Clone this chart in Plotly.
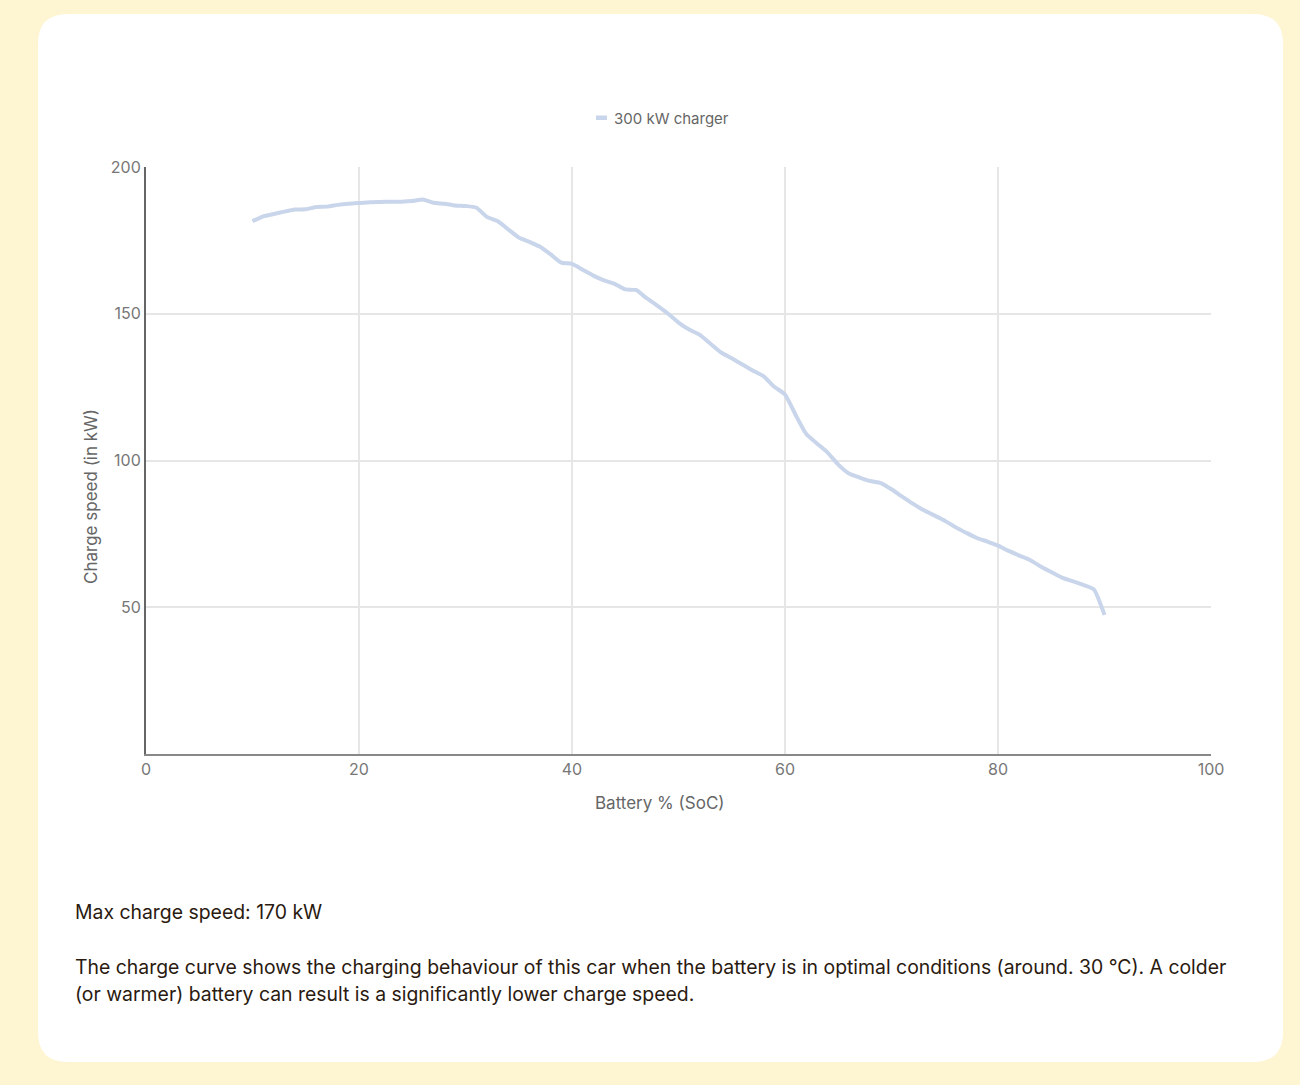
import plotly.graph_objects as go

# ---- data ----
soc = list(range(10, 91))
speed_kw = [181.5, 183.2, 184.0, 184.8, 185.5, 185.6, 186.4, 186.5, 187.1, 187.5,
            187.7, 188.0, 188.1, 188.2, 188.2, 188.4, 188.9, 187.8, 187.5, 186.9,
            186.7, 186.2, 183.0, 181.6, 178.8, 176.0, 174.5, 172.8, 170.2, 167.4,
            167.0, 165.0, 163.0, 161.4, 160.2, 158.3, 158.1, 155.3, 152.8, 150.1,
            147.0, 144.6, 142.8, 139.8, 136.8, 134.8, 132.7, 130.6, 128.7, 125.1,
            122.5, 115.5, 109.0, 105.8, 102.7, 98.6, 95.6, 94.2, 93.0, 92.3,
            90.2, 87.7, 85.3, 83.1, 81.3, 79.5, 77.3, 75.4, 73.6, 72.4,
            71.0, 69.2, 67.6, 66.1, 63.9, 62.0, 60.1, 58.9, 57.6, 56.1, 47.4]
series_name = "300 kW charger"
x_ticks = [0, 20, 40, 60, 80, 100]
y_ticks = [50, 100, 150, 200]
x_title = "Battery % (SoC)"
y_title = "Charge speed (in kW)"
max_text = "Max charge speed: 170 kW"
desc_line1 = "The charge curve shows the charging behaviour of this car when the battery is in optimal conditions (around. 30 °C). A colder"
desc_line2 = "(or warmer) battery can result is a significantly lower charge speed."

W, H = 1300, 1085
L, R, T, B = 146, 1211, 167, 754
LINE_COLOR = "#c9d5ea"
FONT = "Inter"


def px(xp):
    return (xp - L) / (R - L)


def py(yp):
    return (B - yp) / (B - T)


fig = go.Figure()
fig.add_trace(go.Scatter(
    x=soc, y=speed_kw, mode="lines", name=series_name,
    line=dict(color=LINE_COLOR, width=4, shape="spline", smoothing=0.5),
    showlegend=False, hoverinfo="x+y",
))

shapes = []
# white rounded card
x0, x1, y0, y1, r = 38, 1283, 14, 1062, 30
path = (f"M {px(x0 + r)} {py(y0)} L {px(x1 - r)} {py(y0)} "
        f"Q {px(x1)} {py(y0)} {px(x1)} {py(y0 + r)} "
        f"L {px(x1)} {py(y1 - r)} Q {px(x1)} {py(y1)} {px(x1 - r)} {py(y1)} "
        f"L {px(x0 + r)} {py(y1)} Q {px(x0)} {py(y1)} {px(x0)} {py(y1 - r)} "
        f"L {px(x0)} {py(y0 + r)} Q {px(x0)} {py(y0)} {px(x0 + r)} {py(y0)} Z")
shapes.append(dict(type="path", xref="paper", yref="paper", path=path,
                   fillcolor="white", line=dict(width=0), layer="below"))
# legend swatch
shapes.append(dict(type="rect", xref="paper", yref="paper",
                   x0=px(596), x1=px(607), y0=py(120), y1=py(115.5),
                   fillcolor=LINE_COLOR, line=dict(width=0)))

annotations = [
    dict(xref="paper", yref="paper", x=px(612), y=py(118), text=series_name,
         xanchor="left", yanchor="middle", showarrow=False,
         font=dict(family=FONT, size=15, color="#666666")),
    dict(xref="paper", yref="paper", x=px(660), y=py(803), text=x_title,
         xanchor="center", yanchor="middle", showarrow=False,
         font=dict(family=FONT, size=17, color="#666666")),
    dict(xref="paper", yref="paper", x=px(91), y=py(497), text=y_title,
         textangle=-90, xanchor="center", yanchor="middle", showarrow=False,
         font=dict(family=FONT, size=17, color="#666666")),
    dict(xref="paper", yref="paper", x=px(73), y=py(912), text=max_text,
         xanchor="left", yanchor="middle", showarrow=False,
         font=dict(family=FONT, size=19.4, color="#2a1a10")),
    dict(xref="paper", yref="paper", x=px(73), y=py(967), text=desc_line1,
         xanchor="left", yanchor="middle", showarrow=False,
         font=dict(family=FONT, size=19.4, color="#2a1a10")),
    dict(xref="paper", yref="paper", x=px(73), y=py(994), text=desc_line2,
         xanchor="left", yanchor="middle", showarrow=False,
         font=dict(family=FONT, size=19.4, color="#2a1a10")),
]

fig.update_layout(
    width=W, height=H,
    margin=dict(l=L, r=W - R, t=T, b=H - B, pad=0),
    paper_bgcolor="#fef5d3",
    plot_bgcolor="rgba(0,0,0,0)",
    shapes=shapes,
    annotations=annotations,
    font=dict(family=FONT, color="#666666"),
    xaxis=dict(range=[0, 100], tickvals=x_ticks, showgrid=True,
               gridcolor="#e6e6e6", gridwidth=1.5, showline=True,
               linecolor="#888888", linewidth=2, zeroline=False,
               ticks="", tickfont=dict(size=16, color="#777777")),
    yaxis=dict(range=[0, 200], tickvals=y_ticks, showgrid=True,
               gridcolor="#e6e6e6", gridwidth=1.5, showline=True,
               linecolor="#666666", linewidth=2, zeroline=False,
               ticks="", tickfont=dict(size=16, color="#777777")),
)

fig.write_html("out.html")
